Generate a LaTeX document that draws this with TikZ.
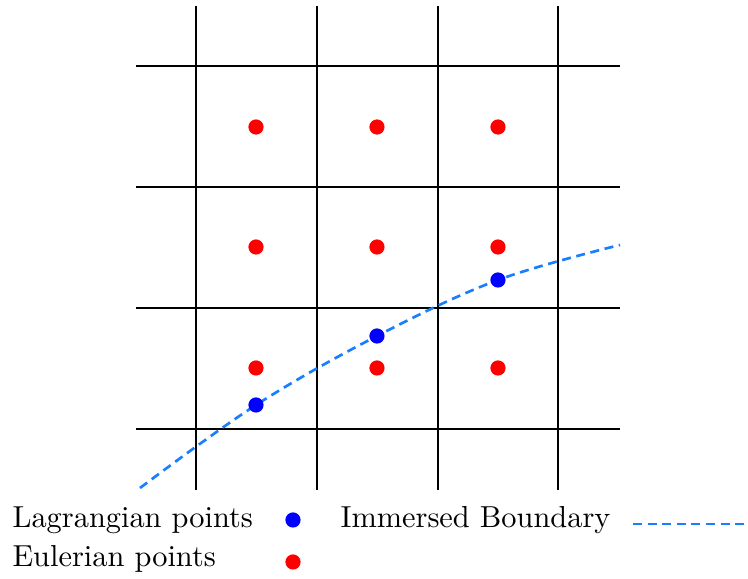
\documentclass[tikz,border=0pt]{standalone}
\usetikzlibrary{positioning}
\definecolor{ibblue}{HTML}{1A7FFF}
\tikzset{
  gridline/.style={line width=0.95pt, black},
  eul/.style={circle, fill=red, inner sep=0pt, minimum size=0.19cm},
  lag/.style={circle, fill=blue, inner sep=0pt, minimum size=0.19cm},
  ibline/.style={ibblue, line width=0.95pt, dash pattern=on 3.2pt off 2pt},
  lbl/.style={anchor=base west, inner sep=0pt, font=\fontsize{10.8}{13}\selectfont},
}
\begin{document}
\begin{tikzpicture}[x=0.0125cm, y=-0.0125cm]
  \useasboundingbox (0,0) rectangle (748,579);
  % grid
  \foreach \gx in {196,317,438,558}
    \draw[gridline] (\gx,6) -- (\gx,490);
  \foreach \gy in {66,187,308,429}
    \draw[gridline] (136,\gy) -- (620,\gy);
  % Eulerian points
  \foreach \ex/\ecol in {256/a,377/b,498/c}
    \foreach \ey/\erow in {127/1,247/2,368/3}
      \node[eul] (e\ecol\erow) at (\ex,\ey) {};
  % immersed boundary
  \coordinate (ibs) at (140,488);
  \coordinate (p1) at (256,405);
  \coordinate (p2) at (377,336);
  \coordinate (p3) at (498,280);
  \coordinate (ibe) at (620,245);
  \draw[ibline] plot[smooth, tension=0.6] coordinates {(ibs) (p1) (p2) (p3) (ibe)};
  % Lagrangian points
  \node[lag] (l1) at (p1) {};
  \node[lag] (l2) at (p2) {};
  \node[lag] (l3) at (p3) {};
  % legend
  \node[lbl] (lagtxt) at (12,528) {Lagrangian points};
  \node[lag] (lagkey) at (293,520) {};
  \node[lbl] (ibtxt) at (340,528) {Immersed Boundary};
  \coordinate (ibk1) at (633,524);
  \coordinate (ibk2) at (748,524);
  \draw[ibline] (ibk1) -- (ibk2);
  \node[lbl] (eultxt) at (12,567) {Eulerian points};
  \node[eul] (eulkey) at (293,562) {};
\end{tikzpicture}
\end{document}
